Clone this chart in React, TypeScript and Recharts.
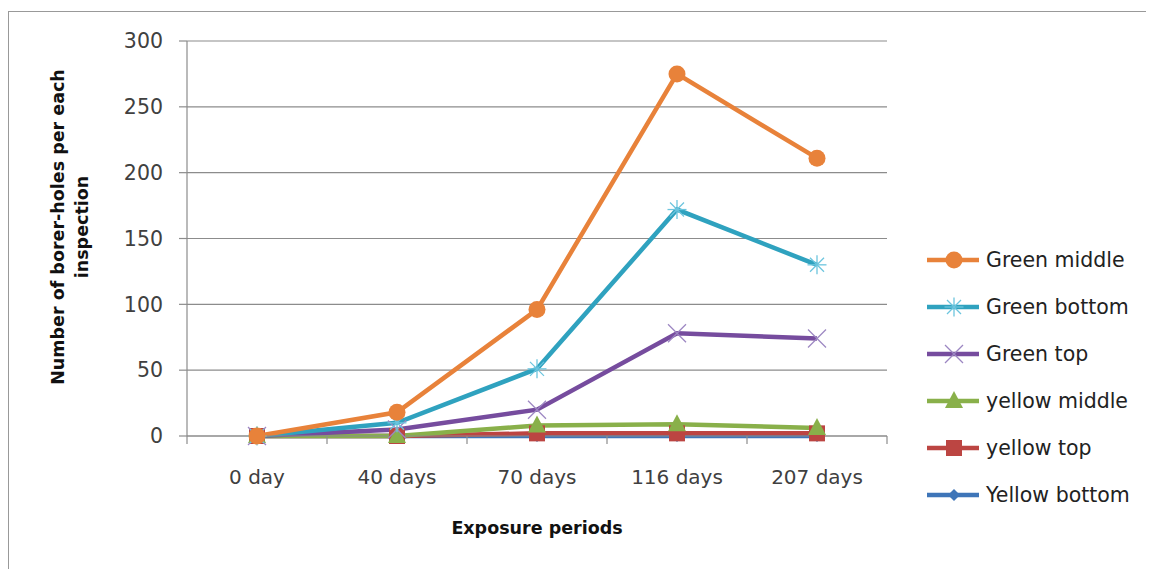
import React from 'react';
import { LineChart, Line, XAxis, YAxis, CartesianGrid } from 'recharts';

const categories = ['0 day', '40 days', '70 days', '116 days', '207 days'];
const greenMiddle = [0, 18, 96, 275, 211];
const greenBottom = [0, 10, 51, 172, 130];
const greenTop = [0, 5, 20, 78, 74];
const yellowMiddle = [0, 0, 8, 9, 6];
const yellowTop = [0, 0, 2, 2, 2];
const yellowBottom = [0, 0, 0, 0, 0];
const yTicks = [0, 50, 100, 150, 200, 250, 300];

const data = categories.map((c, i) => ({
  cat: c,
  greenMiddle: greenMiddle[i],
  greenBottom: greenBottom[i],
  greenTop: greenTop[i],
  yellowMiddle: yellowMiddle[i],
  yellowTop: yellowTop[i],
  yellowBottom: yellowBottom[i],
}));

type Shape = 'circle' | 'asterisk' | 'x' | 'triangle' | 'square' | 'diamond';

const series: { key: string; name: string; color: string; light: string; shape: Shape }[] = [
  { key: 'greenMiddle', name: 'Green middle', color: '#E8823A', light: '#E8823A', shape: 'circle' },
  { key: 'greenBottom', name: 'Green bottom', color: '#2FA2BF', light: '#6CC5DE', shape: 'asterisk' },
  { key: 'greenTop', name: 'Green top', color: '#764C9E', light: '#9C86C2', shape: 'x' },
  { key: 'yellowMiddle', name: 'yellow middle', color: '#89B04A', light: '#89B04A', shape: 'triangle' },
  { key: 'yellowTop', name: 'yellow top', color: '#BC4542', light: '#BC4542', shape: 'square' },
  { key: 'yellowBottom', name: 'Yellow bottom', color: '#3E75B8', light: '#3E75B8', shape: 'diamond' },
];

const FONT = '"DejaVu Sans", sans-serif';
const GRID = '#8c8c8c';

function Marker({ cx, cy, shape, color, light }: { cx: number; cy: number; shape: Shape; color: string; light: string }) {
  switch (shape) {
    case 'circle':
      return <circle cx={cx} cy={cy} r={8.5} fill={color} />;
    case 'asterisk': {
      const r = 9.5;
      const d = 7;
      return (
        <g stroke={light} strokeWidth={1.3}>
          <line x1={cx - r} y1={cy} x2={cx + r} y2={cy} />
          <line x1={cx} y1={cy - r} x2={cx} y2={cy + r} />
          <line x1={cx - d} y1={cy - d} x2={cx + d} y2={cy + d} />
          <line x1={cx - d} y1={cy + d} x2={cx + d} y2={cy - d} />
        </g>
      );
    }
    case 'x': {
      const d = 9;
      return (
        <g stroke={light} strokeWidth={1.3}>
          <line x1={cx - d} y1={cy - d} x2={cx + d} y2={cy + d} />
          <line x1={cx - d} y1={cy + d} x2={cx + d} y2={cy - d} />
        </g>
      );
    }
    case 'triangle':
      return <polygon points={`${cx},${cy - 10} ${cx + 9},${cy + 7} ${cx - 9},${cy + 7}`} fill={color} />;
    case 'square':
      return <rect x={cx - 8} y={cy - 8} width={16} height={16} fill={color} />;
    case 'diamond':
      return <polygon points={`${cx},${cy - 6} ${cx + 6},${cy} ${cx},${cy + 6} ${cx - 6},${cy}`} fill={color} />;
  }
  return null;
}

const makeDot = (s: (typeof series)[number]) => (props: any) => {
  const { cx, cy, index } = props;
  if (cx == null || cy == null) return <g key={`${s.key}-${index}`} />;
  return (
    <g key={`${s.key}-${index}`}>
      <Marker cx={cx} cy={cy} shape={s.shape} color={s.color} light={s.light} />
    </g>
  );
};

const CategoryTick = (props: any) => {
  const { x, y, payload, index, visibleTicksCount } = props;
  const half = payload && payload.offset ? payload.offset : 0;
  const last = index === (visibleTicksCount ?? categories.length) - 1;
  return (
    <g>
      <line x1={x - half} y1={y} x2={x - half} y2={y + 8} stroke={GRID} strokeWidth={1.2} />
      {last && <line x1={x + half} y1={y} x2={x + half} y2={y + 8} stroke={GRID} strokeWidth={1.2} />}
      <text x={x} y={y + 34} dy="0.71em" textAnchor="middle" fill="#404040" fontSize={20} fontFamily={FONT}>
        {payload.value}
      </text>
    </g>
  );
};

const LegendBox = () => (
  <div style={{ position: 'absolute', left: 917, top: 228, fontFamily: FONT }}>
    {series.map((s) => (
      <div key={s.key} style={{ display: 'flex', alignItems: 'center', height: 47 }}>
        <svg width={56} height={24} style={{ display: 'block' }}>
          <line x1={2} y1={12} x2={54} y2={12} stroke={s.color} strokeWidth={4.5} />
          <Marker cx={29} cy={12} shape={s.shape} color={s.color} light={s.light} />
        </svg>
        <span style={{ marginLeft: 5, fontSize: 20.5, color: '#222', whiteSpace: 'nowrap' }}>{s.name}</span>
      </div>
    ))}
  </div>
);

const YTitle = () => (
  <text
    transform="rotate(-90, 61, 219)"
    x={61}
    y={219}
    textAnchor="middle"
    fontFamily={FONT}
    fontWeight={700}
    fontSize={17.5}
    fill="#111"
  >
    <tspan x={61} dy={-5}>Number  of borer-holes per each</tspan>
    <tspan x={61} dy={24}>inspection</tspan>
  </text>
);

const XTitle = () => (
  <text x={529} y={526} textAnchor="middle" fontFamily={FONT} fontWeight={700} fontSize={17.5} fill="#111">
    Exposure periods
  </text>
);

export default function App() {
  const drawOrder = [...series].reverse();
  return (
    <div style={{ position: 'relative', width: 1146, height: 561, overflow: 'hidden', background: '#fff' }}>
      <div
        style={{
          position: 'absolute',
          left: 0,
          top: 3,
          width: 1200,
          height: 700,
          border: '1px solid #999',
          boxSizing: 'border-box',
        }}
      />
      <LineChart
        width={1146}
        height={561}
        data={data}
        margin={{ top: 33, right: 267, bottom: 0, left: 0 }}
        style={{ position: 'absolute', left: 0, top: 0 }}
      >
        <CartesianGrid vertical={false} stroke={GRID} strokeWidth={1.2} />
        <XAxis
          dataKey="cat"
          scale="band"
          height={133}
          axisLine={{ stroke: GRID, strokeWidth: 1.2 }}
          tickLine={false}
          tickSize={0}
          tickMargin={0}
          tick={<CategoryTick />}
          interval={0}
          label={{ content: XTitle }}
        />
        <YAxis
          width={179}
          domain={[0, 300]}
          ticks={yTicks}
          axisLine={{ stroke: GRID, strokeWidth: 1.2 }}
          tickLine={{ stroke: GRID, strokeWidth: 1.2 }}
          tickSize={8}
          tickMargin={16}
          tick={{ fill: '#404040', fontSize: 20.5, fontFamily: FONT }}
          label={{ content: YTitle }}
        />
        {drawOrder.map((s) => (
          <Line
            key={s.key}
            dataKey={s.key}
            name={s.name}
            stroke={s.color}
            strokeWidth={4.5}
            dot={makeDot(s)}
            activeDot={false}
            isAnimationActive={false}
          />
        ))}
      </LineChart>
      <LegendBox />
    </div>
  );
}
